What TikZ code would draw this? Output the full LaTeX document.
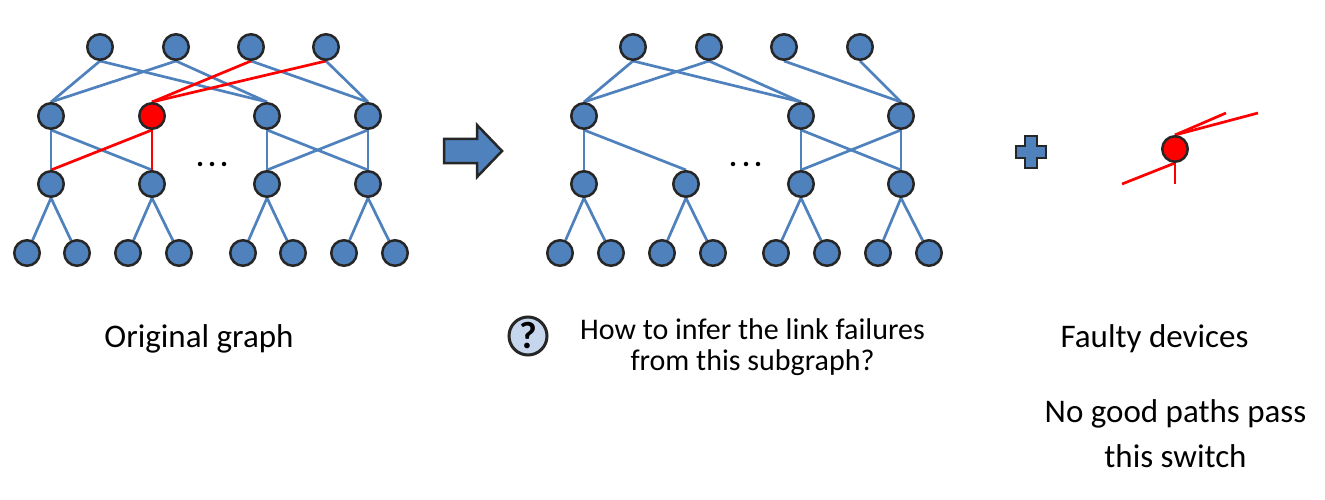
\documentclass[tikz,border=0pt]{standalone}
\usepackage{fontspec}
\setmainfont{Carlito}
\usetikzlibrary{backgrounds}
\definecolor{nodeblue}{HTML}{4F81BD}
\definecolor{edgeblue}{HTML}{4F81BD}
\definecolor{rim}{HTML}{262626}
\definecolor{qfill}{HTML}{C6D6EC}
\begin{document}
\begin{tikzpicture}[x=1pt,y=-1pt,
  sw/.style={circle,fill=nodeblue,draw=rim,line width=2.5pt,minimum size=25.5pt,inner sep=0pt},
  bad/.style={sw,fill=red},
  link/.style={draw=edgeblue,line width=2.7pt},
  badlink/.style={draw=red,line width=2.7pt},
  dotnode/.style={circle,fill=black,inner sep=0pt,minimum size=4.5pt},
  caption/.style={font=\fontsize{33}{45}\selectfont,inner sep=0pt,align=center},
  question/.style={font=\fontsize{30}{31}\selectfont,inner sep=0pt,align=center},
  shapeblue/.style={fill=nodeblue,draw=rim,line width=2.5pt,line join=miter}]
\useasboundingbox (0,0) rectangle (1325,500);

% ---------- left: original graph ----------
\foreach \n/\x in {1/100,2/176,3/251,4/326} \node[sw] (Lc\n) at (\x,47) {};
\foreach \n/\x in {1/51,3/267,4/368} \node[sw] (La\n) at (\x,116) {};
\node[bad] (La2) at (152,116) {};
\foreach \n/\x in {1/51,2/152,3/267,4/368} \node[sw] (Lt\n) at (\x,184) {};
\foreach \n/\x in {1/27,2/77,3/128,4/179,5/243,6/293,7/344,8/395} \node[sw] (Lh\n) at (\x,253) {};
\foreach \n/\x in {1/200,2/212,3/224} \node[dotnode] (Ld\n) at (\x,164) {};

% ---------- middle: subgraph ----------
\foreach \n/\x in {1/633,2/709,3/784,4/860} \node[sw] (Mc\n) at (\x,47) {};
\foreach \n/\x in {1/584,3/801,4/901} \node[sw] (Ma\n) at (\x,116) {};
\foreach \n/\x in {1/584,2/686,3/801,4/901} \node[sw] (Mt\n) at (\x,184) {};
\foreach \n/\x in {1/560,2/611,3/662,4/713,5/776,6/827,7/878,8/929} \node[sw] (Mh\n) at (\x,253) {};
\foreach \n/\x in {1/733,2/746,3/758} \node[dotnode] (Md\n) at (\x,164) {};

% ---------- right: faulty device ----------
\node[bad] (F) at (1175,149) {};
\coordinate (f1) at (1226,113);
\coordinate (f2) at (1258,113);
\coordinate (f3) at (1122,184);
\coordinate (f4) at (1175,184);

\begin{pgfonlayer}{background}
  \foreach \c/\a in {1/1,1/3,2/1,2/3,3/4,4/4} \draw[link] (Lc\c.south) -- (La\a.north);
  \foreach \a/\t in {1/1,1/2,3/3,3/4,4/3,4/4} \draw[link] (La\a.south) -- (Lt\t.north);
  \foreach \t/\h in {1/1,1/2,2/3,2/4,3/5,3/6,4/7,4/8} \draw[link] (Lt\t.south) -- (Lh\h);
  \draw[badlink] (Lc3.south) -- (La2.north);
  \draw[badlink] (Lc4.south) -- (La2.north);
  \draw[badlink] (La2.south) -- (Lt1.north);
  \draw[badlink] (La2.south) -- (Lt2.north);

  \foreach \c/\a in {1/1,1/3,2/1,2/3,3/4,4/4} \draw[link] (Mc\c.south) -- (Ma\a.north);
  \foreach \a/\t in {1/1,1/2,3/3,3/4,4/3,4/4} \draw[link] (Ma\a.south) -- (Mt\t.north);
  \foreach \t/\h in {1/1,1/2,2/3,2/4,3/5,3/6,4/7,4/8} \draw[link] (Mt\t.south) -- (Mh\h);

  \draw[badlink] (F.north) -- (f1);
  \draw[badlink] (F.north) -- (f2);
  \draw[badlink] (F.south) -- (f3);
  \draw[badlink] (F.south) -- (f4);
\end{pgfonlayer}

% arrow
\draw[shapeblue] (444,139) -- (477,139) -- (477,125) -- (502,151) -- (477,177) -- (477,163) -- (444,163) -- cycle;
% plus
\draw[shapeblue] (1025,136) -- (1037,136) -- (1037,146) -- (1046,146) -- (1046,158) -- (1037,158)
  -- (1037,168) -- (1025,168) -- (1025,158) -- (1016,158) -- (1016,146) -- (1025,146) -- cycle;

% question icon
\node[circle,fill=qfill,draw=rim,line width=3pt,minimum size=38pt,inner sep=0pt,
  font=\bfseries\fontsize{38}{38}\selectfont] (Q) at (528,336) {?};

% texts
\node[caption,anchor=base] (orig) at (199,347) {Original graph};
\node[caption,anchor=base] (faulty) at (1154.5,347) {Faulty devices};
\node[question,anchor=base] (howto) at (752.5,370) {How to infer the link failures\\from this subgraph?};
\node[caption,anchor=base] (nogood) at (1175.5,467) {No good paths pass\\this switch};
\end{tikzpicture}
\end{document}
